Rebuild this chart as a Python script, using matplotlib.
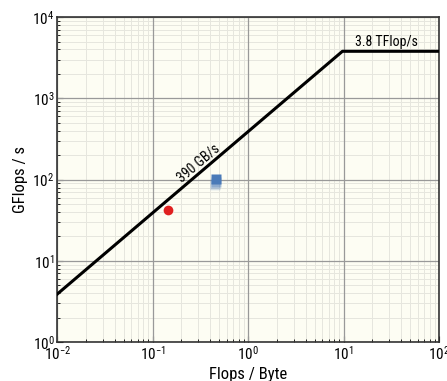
import numpy as np
import matplotlib
matplotlib.use("Agg")
import matplotlib.pyplot as plt
from matplotlib import font_manager

# condensed look if a narrow face is around, else Roboto
names = {f.name for f in font_manager.fontManager.ttflist}
fams = [n for n in ['Roboto Condensed', 'Liberation Sans Narrow'] if n in names]
plt.rcParams['font.family'] = fams + ['Roboto', 'DejaVu Sans']

bandwidth = 390.0      # GB/s
peak = 3800.0          # GFlop/s
intensity = [0.01, peak / bandwidth, 100]

red_x = [0.145]
red_y = [42.5]
blue_x = [0.465]
blue_y = [102]
fade_x = [0.46, 0.455, 0.455]
fade_y = [94, 89, 85]
fade_alpha = [0.4, 0.25, 0.12]

fig = plt.figure(figsize=(4.47, 3.81), dpi=100)
ax = fig.add_axes([0.128, 0.102, 0.854, 0.853])
ax.set_facecolor('#fdfdf3')

perf = [min(bandwidth * x, peak) for x in intensity]
ax.plot(intensity, perf, color='black', lw=2.2, zorder=3)

for x, y, a in zip(fade_x, fade_y, fade_alpha):
    ax.plot(x, y, 's', color='#4a7ab8', alpha=a, ms=6.5, mec='none', zorder=4)
ax.plot(blue_x, blue_y, 's', color='#4a7ab8', ms=6.5, mec='none', zorder=5)
ax.plot(red_x, red_y, 'o', color='#e02020', ms=7, mec='none', zorder=5)

ax.set_xscale('log')
ax.set_yscale('log')
ax.set_xlim(1e-2, 1e2)
ax.set_ylim(1e0, 1e4)

# minor grid from the axis, major grid drawn on top so it stays solid
ax.grid(True, which='minor', color='#e6e6de', lw=0.7)
ax.set_axisbelow(True)
for v in ax.get_xticks():
    ax.axvline(v, color='#999999', lw=0.9, zorder=1)
for v in ax.get_yticks():
    ax.axhline(v, color='#999999', lw=0.9, zorder=1)
ax.set_xlim(1e-2, 1e2)
ax.set_ylim(1e0, 1e4)

ax.text(0.30, 158, '390 GB/s', rotation=40.4, ha='center', va='center', fontsize=10)
ax.text(28, 5000, '3.8 TFlop/s', ha='center', va='center', fontsize=10)

ax.set_xlabel('Flops / Byte', fontsize=12, labelpad=3)
ax.set_ylabel('GFlops / s', fontsize=12, labelpad=3)
ax.tick_params(which='both', direction='in', labelsize=11, pad=2)
ax.tick_params(which='major', length=4)
ax.tick_params(which='minor', length=2.5)
for s in ax.spines.values():
    s.set_color('#333333')
    s.set_linewidth(1.2)

fig.savefig('out.png', dpi=100)
